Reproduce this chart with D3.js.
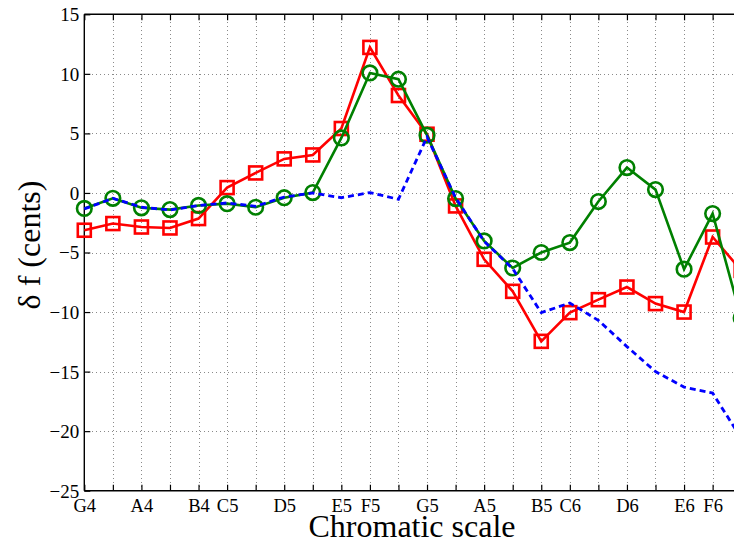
<!DOCTYPE html>
<html>
<head>
<meta charset="utf-8">
<script src="https://cdn.jsdelivr.net/npm/d3@7/dist/d3.min.js"></script>
<style>
  html, body { margin: 0; padding: 0; background: #fff; }
  svg { display: block; }
  text { font-family: "Liberation Serif", "Times New Roman", serif; fill: #000; }
</style>
</head>
<body>
<div id="chart"></div>
<script>
// Semitone positions G4 .. F#6 (only naturals labelled)
const noteLabels = ["G4","","A4","","B4","C5","","D5","","E5","F5","","G5","","A5","","B5","C6","","D6","","E6","F6",""];
const yTicks = [-25, -20, -15, -10, -5, 0, 5, 10, 15];

const redSeries = [-3.13, -2.57, -2.86, -2.94, -2.15, 0.45, 1.68, 2.86, 3.19, 5.41, 12.22, 8.18, 4.93, -1.09, -5.57, -8.26, -12.46, -10.05, -8.96, -7.9, -9.29, -10.0, -3.7, -6.5];
const greenSeries = [-1.3, -0.45, -1.25, -1.4, -1.05, -0.9, -1.2, -0.4, 0.03, 4.62, 10.08, 9.55, 4.85, -0.47, -4.03, -6.3, -5.0, -4.17, -0.72, 2.13, 0.28, -6.4, -1.73, -10.5];
const blueSeries = [-1.34, -0.45, -1.2, -1.43, -1.05, -0.84, -1.12, -0.34, 0.0, -0.4, 0.03, -0.53, 4.7, -0.4, -4.06, -6.36, -10.05, -9.24, -10.7, -12.9, -15.0, -16.3, -16.8, -20.6];

(function () {
const W = 734, H = 544;
const mLeft = 84.3, mTop = 14.3, mBottom = 490.7;
const step = 28.56;
const nSlots = 24; // plot continues past the window's right edge

const svg = d3.select("#chart").append("svg").attr("width", W).attr("height", H);

const x = d3.scaleLinear().domain([0, nSlots]).range([mLeft, mLeft + nSlots * step]);
const y = d3.scaleLinear().domain([-25, 15]).range([mBottom, mTop]);
const mRight = x(nSlots);

// Grid
const grid = svg.append("g").attr("stroke", "#8a8a8a").attr("stroke-width", 1)
  .attr("stroke-dasharray", "1,3").attr("shape-rendering", "crispEdges");
grid.selectAll("line.v").data(d3.range(1, nSlots)).join("line")
  .attr("class", "v")
  .attr("x1", d => Math.round(x(d)) + 0.5).attr("x2", d => Math.round(x(d)) + 0.5)
  .attr("y1", mTop).attr("y2", mBottom);
grid.selectAll("line.h").data(yTicks.filter(v => v > -25 && v < 15)).join("line")
  .attr("class", "h")
  .attr("x1", mLeft).attr("x2", mRight)
  .attr("y1", d => Math.round(y(d)) + 0.5).attr("y2", d => Math.round(y(d)) + 0.5);

// Axes with inward ticks
const xAxisB = d3.axisBottom(x).tickValues(d3.range(0, nSlots)).tickSize(-6).tickPadding(10)
  .tickFormat(i => noteLabels[i] || "");
const gB = svg.append("g").attr("transform", `translate(0,${mBottom})`).call(xAxisB);
gB.select(".domain").remove();
gB.selectAll(".tick line").attr("stroke", "#000").attr("stroke-width", 1.2);
gB.selectAll(".tick text").filter(function () { return this.textContent === ""; }).remove();
gB.selectAll("text").attr("font-size", 18.5).attr("font-family", "Liberation Serif, serif").attr("dy", "0.62em");

const xAxisT = d3.axisTop(x).tickValues(d3.range(0, nSlots)).tickSize(-6).tickFormat("");
const gT = svg.append("g").attr("transform", `translate(0,${mTop})`).call(xAxisT);
gT.select(".domain").remove();
gT.selectAll(".tick text").remove();
gT.selectAll(".tick line").attr("stroke", "#000").attr("stroke-width", 1.2);

const yAxis = d3.axisLeft(y).tickValues(yTicks).tickSize(-6).tickPadding(5)
  .tickFormat(d => d < 0 ? "\u2212" + Math.abs(d) : String(d));
const gL = svg.append("g").attr("transform", `translate(${mLeft},0)`).call(yAxis);
gL.select(".domain").remove();
gL.selectAll(".tick line").attr("stroke", "#000").attr("stroke-width", 1.2);
gL.selectAll("text").attr("font-size", 19).attr("font-family", "Liberation Serif, serif").attr("dy", "0.34em");

// Axis box lines
svg.append("line").attr("x1", mLeft).attr("x2", mRight).attr("y1", mTop).attr("y2", mTop)
  .attr("stroke", "#000").attr("stroke-width", 1.4);
svg.append("line").attr("x1", mLeft).attr("x2", mRight).attr("y1", mBottom).attr("y2", mBottom)
  .attr("stroke", "#000").attr("stroke-width", 1.4);
svg.append("line").attr("x1", mLeft).attr("x2", mLeft).attr("y1", mTop).attr("y2", mBottom)
  .attr("stroke", "#000").attr("stroke-width", 1.4);

const line = d3.line().x((d, i) => x(i)).y(d => y(d));

// Red series with squares
svg.append("path").datum(redSeries).attr("d", line)
  .attr("fill", "none").attr("stroke", "#ff0000").attr("stroke-width", 2.6);
svg.append("g").selectAll("rect").data(redSeries).join("rect")
  .attr("x", (d, i) => x(i) - 6.5).attr("y", d => y(d) - 6.5)
  .attr("width", 13).attr("height", 13)
  .attr("fill", "none").attr("stroke", "#ff0000").attr("stroke-width", 2.6);

// Green series with circles
svg.append("path").datum(greenSeries).attr("d", line)
  .attr("fill", "none").attr("stroke", "#008000").attr("stroke-width", 2.6);
svg.append("g").selectAll("circle").data(greenSeries).join("circle")
  .attr("cx", (d, i) => x(i)).attr("cy", d => y(d)).attr("r", 7.3)
  .attr("fill", "none").attr("stroke", "#008000").attr("stroke-width", 2.6);

// Blue dashed series
svg.append("path").datum(blueSeries).attr("d", line)
  .attr("fill", "none").attr("stroke", "#0000ff").attr("stroke-width", 2.8)
  .attr("stroke-dasharray", "6,4");

// Axis titles
svg.append("text").attr("x", 412).attr("y", 537).attr("text-anchor", "middle")
  .attr("font-size", 32).text("Chromatic scale");
svg.append("text").attr("transform", "translate(40,245) rotate(-90)").attr("text-anchor", "middle")
  .attr("font-size", 32).text("\u03b4 f (cents)");
})();
</script>
</body>
</html>
